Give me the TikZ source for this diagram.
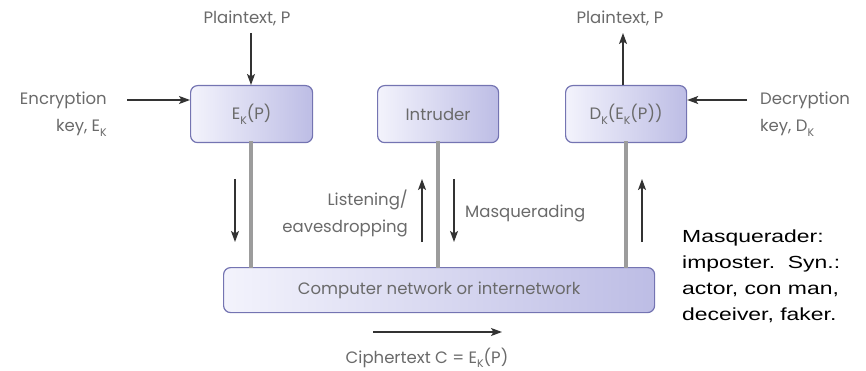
\documentclass[tikz,border=0pt]{standalone}
\usepackage{fontspec}
\setmainfont{Poppins}
\newfontfamily\arialfont{Liberation Sans}
\usetikzlibrary{arrows.meta}
\definecolor{txtgrey}{HTML}{6A6A6A}
\definecolor{boxleft}{HTML}{F3F3FC}
\definecolor{boxright}{HTML}{BDBDE5}
\definecolor{boxedge}{HTML}{7474B2}
\definecolor{linkgrey}{HTML}{9C9C9C}
\newcommand\subk[1]{\raisebox{-0.5ex}{\fontsize{11}{11}\selectfont #1}}
\tikzset{
  x=1pt, y=-1pt,
  lbl/.style={text=txtgrey, font=\fontsize{16.5}{27}\selectfont, inner sep=0pt},
  blk/.style={draw=boxedge, line width=1.2pt, rounded corners=7pt, left color=boxleft, right color=boxright,
    text=txtgrey, font=\fontsize{16.5}{27}\selectfont, anchor=north west, inner sep=0pt},
  arr/.style={-{Stealth[length=11pt,width=8pt,inset=2.5pt]}, line width=1.3pt, draw=black!80},
  link/.style={line width=4.5pt, draw=linkgrey}
}
\begin{document}
\begin{tikzpicture}
\useasboundingbox (0,0) rectangle (866,371);
% boxes
\node[blk, minimum width=122pt, minimum height=57pt] (enc) at (190,85) {E\subk{K}(P)};
\node[blk, minimum width=121pt, minimum height=57pt] (intr) at (377,85) {Intruder};
\node[blk, minimum width=121pt, minimum height=57pt] (dec) at (565,85) {D\subk{K}(E\subk{K}(P))};
\node[blk, minimum width=431pt, minimum height=45pt] (net) at (223,267) {Computer network or internetwork};
% links
\coordinate (e1) at (251,142);
\coordinate (i1) at (438,142);
\coordinate (d1) at (626,142);
\draw[link] ([yshift=0.6pt]e1) -- ([yshift=-0.6pt]e1 |- net.north);
\draw[link] ([yshift=0.6pt]i1) -- ([yshift=-0.6pt]i1 |- net.north);
\draw[link] ([yshift=0.6pt]d1) -- ([yshift=-0.6pt]d1 |- net.north);
% top labels
\node[lbl] (pt1) at (247,18) {Plaintext, P};
\node[lbl] (pt2) at (620,18) {Plaintext, P};
\coordinate (pt1b) at (251,33);
\coordinate (pt2b) at (623,33);
\draw[arr] (pt1b) -- (pt1b |- enc.north);
\draw[arr] (pt2b |- dec.north) -- (pt2b);
% keys
\node[lbl, align=right, anchor=east] (ekey) at (107,114) {Encryption\\key, E\subk{K}};
\node[lbl, align=left, anchor=west] (dkey) at (760,114) {Decryption\\key, D\subk{K}};
\coordinate (ek) at (127,100);
\coordinate (dk) at (747,100);
\draw[arr] (ek) -- (ek -| enc.west);
\draw[arr] (dk) -- (dk -| dec.east);
% small arrows
\coordinate (a1t) at (235,179); \coordinate (a1b) at (235,242);
\coordinate (a2t) at (422,179); \coordinate (a2b) at (422,242);
\coordinate (a3t) at (454,179); \coordinate (a3b) at (454,242);
\coordinate (a4t) at (642,179); \coordinate (a4b) at (642,242);
\draw[arr] (a1t) -- (a1b);
\draw[arr] (a2b) -- (a2t);
\draw[arr] (a3t) -- (a3b);
\draw[arr] (a4b) -- (a4t);
\node[lbl, align=right, anchor=east] (listen) at (408,213) {Listening/\\eavesdropping};
\node[lbl, anchor=west] (masq) at (465,213) {Masquerading};
% ciphertext
\coordinate (c1) at (373,332); \coordinate (c2) at (502,332);
\draw[arr] (c1) -- (c2);
\node[lbl] (ciph) at (427,358) {Ciphertext C = E\subk{K}(P)};
% note
\node[anchor=north west, align=left, inner sep=0pt, text=black] (note) at (682,230)
  {\scalebox{1.31}[1]{\parbox[t]{130pt}{\arialfont\fontsize{17.5}{26}\selectfont Masquerader:\\imposter.\ \ Syn.:\\actor, con man,\\deceiver, faker.}}};
\end{tikzpicture}
\end{document}
